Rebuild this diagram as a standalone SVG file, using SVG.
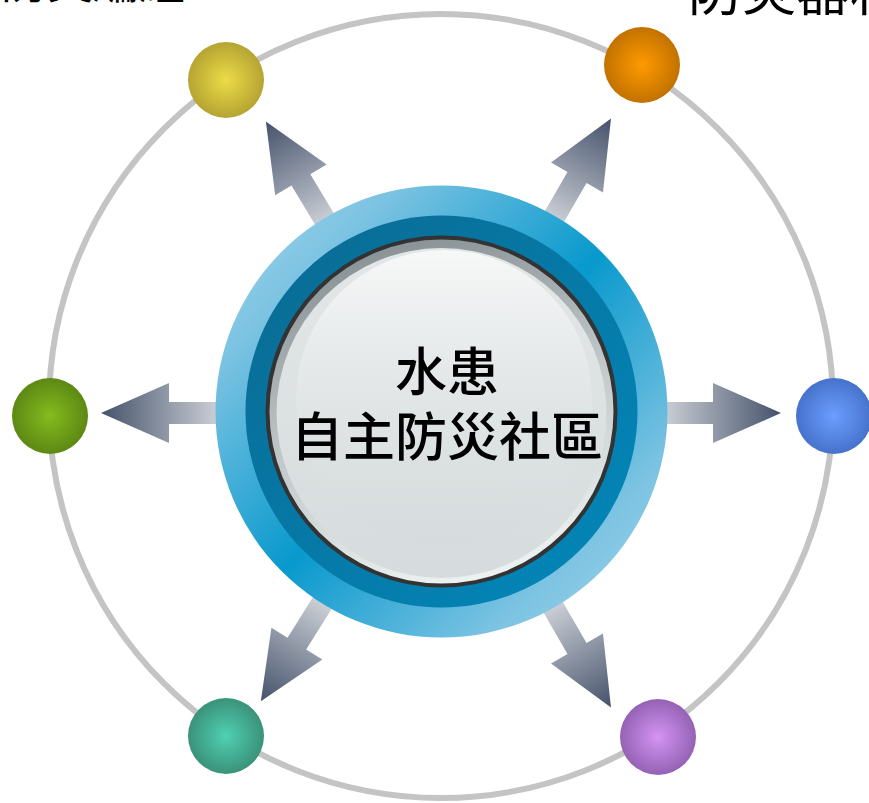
<svg xmlns="http://www.w3.org/2000/svg" width="869" height="803" viewBox="0 0 869 803">
<defs>
<style>
.lbl{font-family:"Noto Sans CJK TC","Noto Sans CJK SC",sans-serif;fill:#000;}
.ring{fill:none;stroke:#c4c4c4;stroke-width:6;}
</style>
<linearGradient id="outerG" x1="0" y1="0" x2="1" y2="1">
<stop offset="0" stop-color="#a6d8ee"/>
<stop offset="0.2" stop-color="#7cc3e2"/>
<stop offset="0.5" stop-color="#0899cd"/>
<stop offset="0.8" stop-color="#7cc3e2"/>
<stop offset="1" stop-color="#a6d8ee"/>
</linearGradient>
<linearGradient id="midG" x1="0" y1="0" x2="1" y2="1">
<stop offset="0" stop-color="#0a6a92"/>
<stop offset="1" stop-color="#0288bb"/>
</linearGradient>
<linearGradient id="rimG" x1="0.3" y1="0" x2="0.6" y2="1">
<stop offset="0" stop-color="#868f93"/>
<stop offset="0.5" stop-color="#c0c7c8"/>
<stop offset="1" stop-color="#eef2f2"/>
</linearGradient>
<linearGradient id="faceG" x1="0" y1="0" x2="0" y2="1">
<stop offset="0" stop-color="#e2e6e7"/>
<stop offset="1" stop-color="#d6dcdd"/>
</linearGradient>
<linearGradient id="hiG" x1="0" y1="0" x2="0" y2="1">
<stop offset="0" stop-color="#f7f8f8"/>
<stop offset="1" stop-color="#d3d9db" stop-opacity="0.2"/>
</linearGradient>
<linearGradient id="arrG" gradientUnits="userSpaceOnUse" x1="225" y1="0" x2="340" y2="0">
<stop offset="0" stop-color="#c9cdd4"/>
<stop offset="1" stop-color="#45526b"/>
</linearGradient>
<radialGradient id="gY"><stop offset="0" stop-color="#ecdc48"/><stop offset="1" stop-color="#b5a432"/></radialGradient>
<radialGradient id="gO"><stop offset="0" stop-color="#ff9a00"/><stop offset="1" stop-color="#c27200"/></radialGradient>
<radialGradient id="gG"><stop offset="0" stop-color="#84bc1e"/><stop offset="1" stop-color="#5d8814"/></radialGradient>
<radialGradient id="gB"><stop offset="0" stop-color="#6c9eff"/><stop offset="1" stop-color="#4672cc"/></radialGradient>
<radialGradient id="gT"><stop offset="0" stop-color="#50d0b2"/><stop offset="1" stop-color="#3a927a"/></radialGradient>
<radialGradient id="gP"><stop offset="0" stop-color="#d494f4"/><stop offset="1" stop-color="#9462b4"/></radialGradient>
<path id="arr" d="M220,-11 L272,-11 L272,-30 L340,0 L272,30 L272,11 L220,11 Z" fill="url(#arrG)"/>
</defs>
<rect width="869" height="803" fill="#fff"/>
<text class="lbl" x="185" y="-2" font-size="46" text-anchor="end">防災編組</text>
<text class="lbl" x="688" y="11" font-size="54">防災器材</text>
<circle class="ring" cx="441" cy="406" r="392"/>
<g id="connectors">
<use href="#arr" transform="translate(441,413) rotate(-60)"/>
<use href="#arr" transform="translate(441,413) rotate(-121)"/>
<use href="#arr" transform="translate(441,413) rotate(180)"/>
<use href="#arr" transform="translate(441,413) rotate(0)"/>
<use href="#arr" transform="translate(441,413) rotate(122)"/>
<use href="#arr" transform="translate(441,413) rotate(60)"/>
</g>
<g id="node-yellow"><circle cx="226" cy="80" r="38" fill="url(#gY)"/></g>
<g id="node-orange"><circle cx="642" cy="65" r="38" fill="url(#gO)"/></g>
<g id="node-green"><circle cx="50" cy="416" r="38" fill="url(#gG)"/></g>
<g id="node-blue"><circle cx="834" cy="416" r="38" fill="url(#gB)"/></g>
<g id="node-teal"><circle cx="226" cy="736" r="38" fill="url(#gT)"/></g>
<g id="node-purple"><circle cx="658" cy="737" r="38" fill="url(#gP)"/></g>
<g id="hub">
<circle cx="441.5" cy="411.5" r="226" fill="url(#outerG)"/>
<circle cx="441.5" cy="411.5" r="196" fill="url(#midG)"/>
<circle cx="441.5" cy="411.5" r="176" fill="#333"/>
<circle cx="441.5" cy="411.5" r="172" fill="url(#rimG)"/>
<circle cx="441.5" cy="413" r="165" fill="url(#faceG)"/>
<circle cx="444" cy="398" r="148" fill="url(#hiG)"/>
<text class="lbl" x="447" y="391" font-size="52" font-weight="500" text-anchor="middle">水患</text>
<text class="lbl" x="447" y="456" font-size="52" font-weight="500" text-anchor="middle">自主防災社區</text>
</g>
</svg>
